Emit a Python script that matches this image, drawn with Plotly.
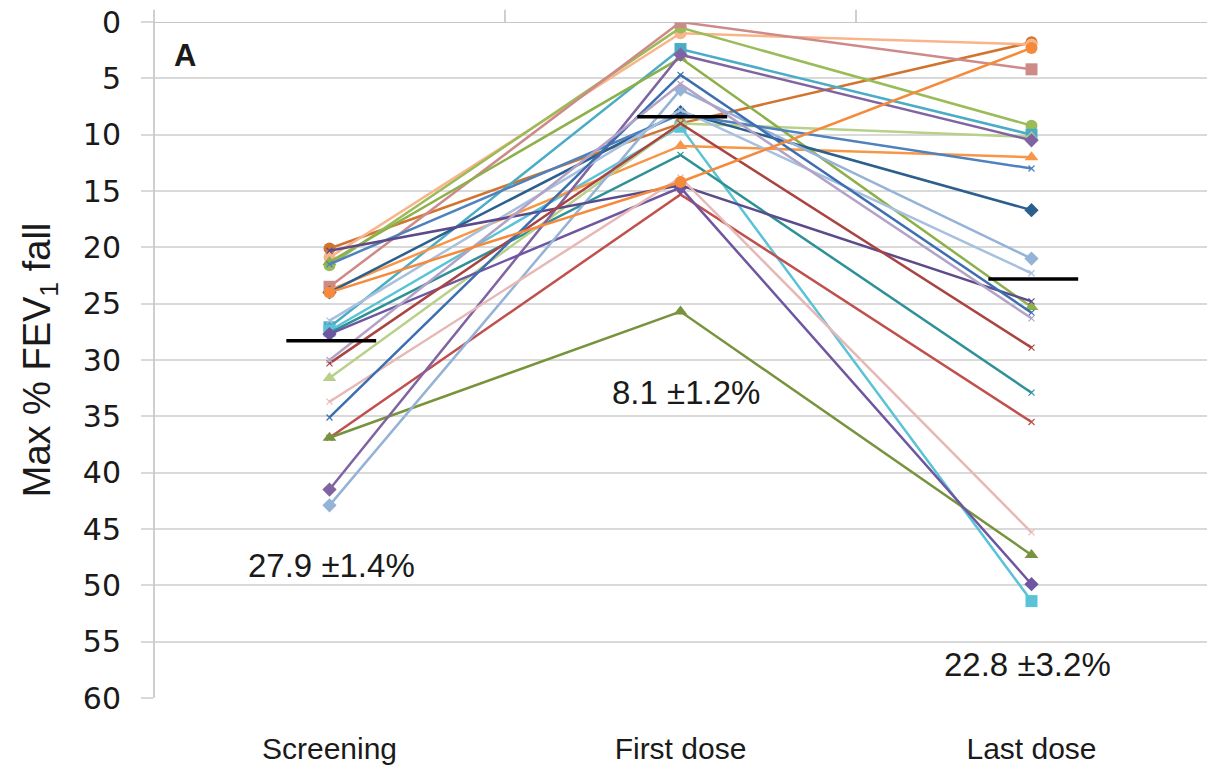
import plotly.graph_objects as go

categories = ["Screening", "First dose", "Last dose"]

# Max % FEV1 fall per subject (screening, first dose, last dose)
screening = [20.1, 20.9, 21.6, 23.5, 27.1, 27.4, 27.6, 36.9, 36.9, 23.8, 31.6, 21.3,
             41.5, 27.7, 24.0, 42.9, 21.5, 26.5, 20.3, 33.7, 30.3, 35.1, 30.0, 24.0]
first_dose = [9.0, 1.0, 0.5, 0.0, 2.4, 9.3, 11.8, 15.3, 25.7, 11.0, 9.0, 3.2,
              2.9, 14.7, 8.0, 6.0, 8.2, 7.8, 14.5, 13.8, 9.0, 4.7, 5.5, 14.2]
last_dose = [1.8, 2.0, 9.2, 4.2, 10.0, 51.4, 32.9, 35.5, 47.3, 12.0, 10.2, 25.3,
             10.5, 49.9, 16.7, 21.0, 13.0, 22.3, 24.8, 45.3, 28.9, 25.8, 26.3, 2.3]

# group means (drawn as black bars) and their labels
mean_values = [28.3, 8.4, 22.8]
mean_labels = ["27.9 \u00b11.4%", "8.1 \u00b11.2%", "22.8 \u00b13.2%"]
y_ticks = list(range(0, 61, 5))

# styles
colors = ["#D0742F", "#F9B48A", "#9BBB59", "#CD8A88", "#4BACC6", "#5BC3D6", "#2E9196", "#C0504D",
          "#77933C", "#F79646", "#B8D08A", "#8DB04A", "#8064A2", "#6F56A0", "#2C5F8E", "#95B3D7",
          "#4F81BD", "#A7C0DE", "#5C4B8A", "#E6B9B8", "#A94442", "#3D6FB0", "#B3A2C7", "#F58A3C"]
markers = ["circle", "circle", "circle", "square", "square", "square", "x-thin", "x-thin",
           "triangle-up", "triangle-up", "triangle-up", "triangle-up", "diamond", "diamond", "diamond", "diamond",
           "x-thin", "x-thin", "x-thin", "x-thin", "x-thin", "x-thin", "x-thin", "circle"]
msizes = {"circle": 12, "square": 12, "triangle-up": 12, "diamond": 11, "x-thin": 6}

x_pos = list(range(len(categories)))

fig = go.Figure()
for i in range(len(screening)):
    sym = markers[i]
    fig.add_trace(go.Scatter(
        x=x_pos, y=[screening[i], first_dose[i], last_dose[i]],
        mode="lines+markers",
        line=dict(color=colors[i], width=2.5),
        marker=dict(symbol=sym, size=msizes[sym], color=colors[i],
                    line=dict(color=colors[i], width=1.2 if sym == "x-thin" else 0)),
        showlegend=False, hoverinfo="skip"))

half = 0.128
for i, m in enumerate(mean_values):
    fig.add_trace(go.Scatter(x=[x_pos[i] - half + 0.005, x_pos[i] + half + 0.005], y=[m, m],
                             mode="lines", line=dict(color="black", width=3.5),
                             showlegend=False, hoverinfo="skip"))

label_pos = [(0.005, 48.2), (1.015, 32.9), (1.99, 57.0)]
for (xp, yp), txt in zip(label_pos, mean_labels):
    fig.add_annotation(x=xp, y=yp, text=txt, showarrow=False, xref="x", yref="y",
                       font=dict(family="Liberation Sans", size=33, color="#1a1a1a"))

fig.add_annotation(x=-0.412, y=3.0, text="A", showarrow=False, xref="x", yref="y",
                   font=dict(family="Liberation Sans", size=31, color="#1a1a1a", weight="bold"))

# category boundary tick marks above the top axis line
for b in [0.5, 1.5]:
    fig.add_shape(type="line", xref="x", yref="paper", x0=b, x1=b, y0=1.0, y1=1.018,
                  line=dict(color="#BFBFBF", width=1.5))
fig.add_shape(type="line", xref="paper", yref="paper", x0=0, x1=0, y0=0, y1=1.018,
              line=dict(color="#BFBFBF", width=1.5))
fig.add_shape(type="line", xref="paper", yref="y", x0=0, x1=1, y0=0, y1=0,
              line=dict(color="#B5B5B5", width=1.5))

fig.update_layout(
    width=1210, height=779,
    margin=dict(l=154, r=3, t=22, b=81),
    paper_bgcolor="white", plot_bgcolor="white",
    xaxis=dict(range=[-0.5, 2.5], tickvals=x_pos, ticktext=categories,
               showgrid=False, zeroline=False, showline=False, ticks="",
               ticklabelstandoff=30,
               tickfont=dict(family="Liberation Sans", size=30, color="#1a1a1a")),
    yaxis=dict(range=[60, 0], tickvals=y_ticks, showgrid=True, gridcolor="#D9D9D9", gridwidth=1.5,
               zeroline=False, showline=False, ticks="outside", ticklen=12, tickcolor="#D9D9D9",
               tickwidth=1.5, ticklabelstandoff=14,
               tickfont=dict(family="DejaVu Sans", size=30, color="#1a1a1a"),
               title=dict(text="Max % FEV<sub>1</sub> fall", standoff=20,
                          font=dict(family="Liberation Sans", size=38, color="#1a1a1a"))),
)

fig.write_html("out.html")
